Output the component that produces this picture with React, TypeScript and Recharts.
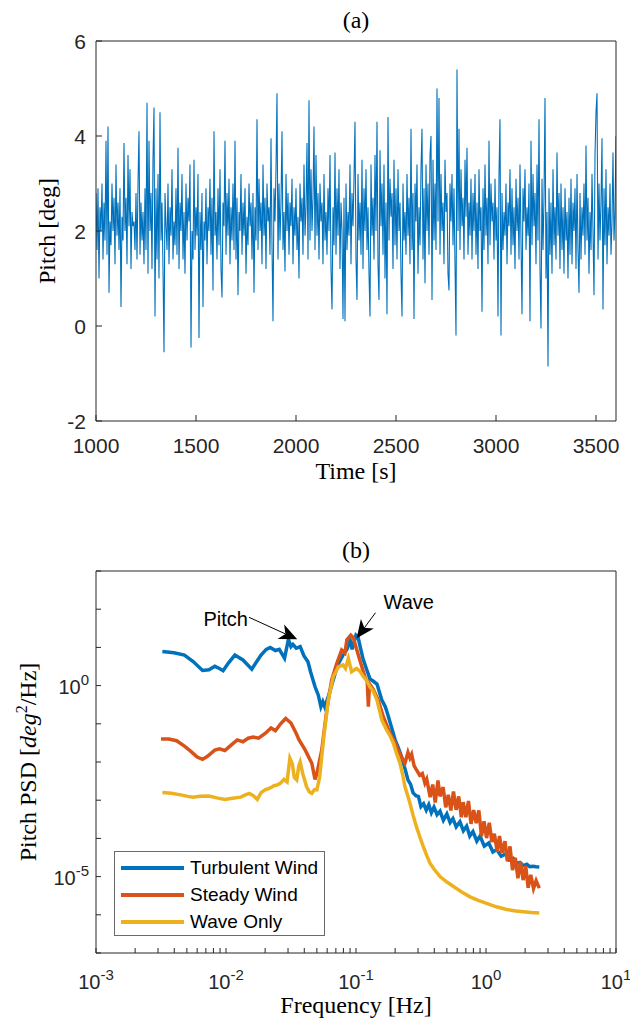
import { Legend, Line, LineChart, ReferenceLine, XAxis, YAxis } from "recharts";

const BLUE = "#0072bd";
const ORANGE = "#d95319";
const YELLOW = "#edb120";
const AXIS = "#262626";
const SANS = '"Liberation Sans", Arial, Helvetica, sans-serif';
const SERIF = '"Liberation Serif", "DejaVu Serif", serif';

// (a) pitch time history, one value every 5 s from 1000 s
const TIME_START = 1000;
const TIME_STEP = 5;
const PITCH_DEG = [
  2.8, 1.6, 2.9, 1.0, 2.5, 2.0, 3.0, 1.4, 2.6, 1.8, 3.9, 1.5, 4.2, 0.7, 2.2, 1.7, 3.0, 2.0, 2.7, 1.3,
  3.4, 1.9, 2.6, 1.6, 2.9, 0.4, 2.3, 1.8, 3.85, 2.0, 2.7, 1.3, 3.6, 2.1, 3.3, 1.2, 2.4, 2.1, 2.2, 1.6,
  2.8, 1.4, 3.0, 4.1, 1.5, 2.6, 1.8, 2.4, 1.3, 2.9, 1.6, 4.7, 1.1, 3.9, 2.0, 2.8, 1.2, 3.5, 4.6, 0.2,
  2.9, 1.4, 3.2, 1.0, 4.5, 1.8, 2.6, 1.2, -0.55, 2.8, 2.1, 1.6, 3.0, 1.3, 2.5, 1.9, 3.3, 1.4, 2.2, 1.7,
  2.9, 1.5, 3.75, 1.2, 2.6, 2.0, 3.2, 1.4, 2.4, 1.1, 3.0, 1.8, 2.7, 2.2, 3.4, -0.45, 2.0, 1.4, 3.5, 1.6,
  2.5, 1.9, 3.2, -0.25, 2.4, 1.6, 2.8, 0.4, 2.2, 1.8, 2.9, 1.3, 2.5, 2.0, 3.1, 1.5, 2.7, 0.75, 4.1, 1.9,
  2.4, 1.4, 2.9, 1.7, 3.3, 1.2, 0.6, 2.6, 2.1, 3.9, 1.5, 2.8, 1.9, 3.1, 1.3, 2.5, 1.8, 3.0, 1.6, 3.9,
  1.4, 2.7, 0.65, 2.4, 2.0, 3.2, 1.5, 2.6, 1.9, 2.9, 1.1, 2.3, 1.7, 3.0, 2.1, 2.6, 1.4, 2.8, 0.7, 2.5,
  1.8, 4.35, 1.6, 3.1, 2.0, 2.6, 1.3, 3.4, 1.9, 2.7, 1.2, 3.0, 2.2, 2.5, 1.5, 3.95, 1.7, 0.1, 2.9, 2.2,
  3.3, 4.9, 1.4, 3.0, 1.8, 2.6, 4.1, 1.6, 2.4, 1.15, 3.2, 2.0, 2.8, 1.5, 2.6, 2.1, 3.1, 1.3, 2.5, 1.9,
  2.9, 1.6, 2.3, 1.0, 3.0, 2.2, 2.7, 1.5, 3.4, 1.9, 2.5, 3.85, 1.4, 4.75, 1.8, 3.3, 2.0, 2.7, 4.2, 1.6,
  3.6, 1.9, 2.8, 1.4, 3.0, 2.2, 2.6, 1.3, 3.2, 1.8, 2.4, 1.5, 2.9, 2.0, 3.6, 1.2, 0.35, 2.5, 1.7, 3.65,
  1.5, 2.9, 1.9, 3.3, 1.2, 2.6, 2.0, 0.15, 2.7, 0.1, 3.0, 1.6, 2.4, 1.9, 3.4, 1.3, 2.8, 2.1, 3.1, 4.3,
  1.4, 0.55, 3.2, 1.8, 2.6, 1.5, 3.5, 1.2, 2.9, 2.0, 3.3, 1.6, 2.5, 1.1, 0.2, 3.4, 1.9, 2.7, 1.4, 3.6,
  2.0, 4.3, 1.3, 0.55, 3.7, 2.1, 3.0, 1.5, 3.4, 1.0, 2.6, 0.25, 4.4, 1.8, 3.1, 2.3, 2.8, 1.2, 3.5, 1.7,
  2.9, 1.4, 3.3, 2.0, 2.6, 1.1, 0.2, 3.0, 1.8, 2.4, 1.5, 3.2, 1.9, 2.7, 1.3, 4.15, 1.6, 2.8, 0.15, 3.0,
  2.2, 3.4, 1.1, 2.5, 1.7, 3.3, 4.15, 1.4, 2.9, 0.9, 3.4, 2.0, 3.0, 1.5, 3.6, 4.0, 0.55, 3.5, 1.8, 3.0,
  1.6, 5.0, 2.2, 4.8, 1.5, 3.2, 2.0, 2.6, 1.3, 3.5, 2.4, 2.8, 1.1, 0.75, 3.0, 2.2, 3.2, 1.7, 2.9, 1.3,
  -0.2, 5.4, 2.0, 4.15, 1.6, 3.3, 2.1, 2.7, 1.4, 3.5, 2.3, 3.75, 1.5, 2.6, 1.9, 3.1, 1.4, 2.8, 2.0, 3.2,
  1.5, 2.6, 1.2, 3.3, 2.0, 2.5, 0.3, 2.9, 1.6, 3.4, 1.9, 2.7, 1.3, 3.9, 1.7, 3.0, 2.2, 2.6, 1.4, 3.1,
  1.8, 2.5, 0.2, 3.2, 4.35, -0.2, 2.8, 1.6, 2.4, 1.9, 3.0, 1.3, 2.6, 2.1, 3.3, 1.5, 2.9, 1.7, 2.5, 1.2,
  3.1, 2.0, 2.7, 1.4, 3.4, 1.8, 0.25, 2.9, 2.2, 3.3, 1.6, 2.5, 1.9, 3.0, 0.1, 3.9, 1.7, 3.2, 2.1, 2.8,
  1.3, 3.4, 1.8, 4.35, 1.2, -0.05, 3.1, 1.6, 2.7, 4.8, 1.0, 2.4, -0.85, 2.9, 1.5, 2.6, 1.1, 3.3, 1.7, 2.5,
  1.4, 3.65, 1.9, 2.8, 1.2, 3.0, 1.6, 2.5, 1.1, 2.9, 1.8, 2.4, 1.0, 2.7, 1.5, 3.1, 1.3, 2.6, 2.0, 2.9,
  1.2, 3.2, 1.6, 0.7, 2.8, 1.4, 2.5, 1.9, 3.0, 1.5, 3.8, 1.8, 2.7, 1.1, 2.4, 1.6, 3.2, 2.0, 0.65, 3.6,
  4.5, 4.9, 1.4, 3.0, 1.8, 2.6, 3.95, 0.35, 2.9, 1.7, 3.3, 1.3, 2.5, 1.9, 3.0, 1.5, 2.2, 3.65, 1.8, 2.4,
  4.0,
];

const TIME_TICKS = [1000, 1500, 2000, 2500, 3000, 3500];
const PITCH_TICKS = [-2, 0, 2, 4, 6];

// (b) pitch PSD
const TURB_FREQ = [
  0.00324, 0.00398, 0.00479, 0.00562, 0.0066, 0.0074, 0.0082, 0.0089, 0.0095, 0.0105,
  0.0117, 0.0135, 0.0158, 0.0174, 0.0186, 0.0204, 0.0219, 0.024, 0.0257, 0.0282,
  0.0302, 0.0316, 0.0327, 0.0347, 0.0372, 0.0398, 0.0427, 0.0447, 0.0484, 0.0513,
  0.0537, 0.0556, 0.0575, 0.0617, 0.0668, 0.0724, 0.0794, 0.0851, 0.0902, 0.0933,
  0.1, 0.1035, 0.108, 0.113, 0.12, 0.128, 0.136, 0.145, 0.158, 0.168,
  0.176, 0.188, 0.2, 0.211, 0.224, 0.237, 0.251, 0.263, 0.275, 0.29,
  0.302, 0.316, 0.331, 0.347, 0.363, 0.38, 0.398, 0.42, 0.443, 0.47,
  0.5, 0.53, 0.557, 0.59, 0.63, 0.67, 0.71, 0.75, 0.794, 0.85,
  0.9, 0.97, 1.05, 1.13, 1.21, 1.31, 1.41, 1.51, 1.62, 1.72,
  1.82, 1.94, 2.06, 2.17, 2.29, 2.43, 2.57,
];
const TURB_PSD = [
  7.8, 7.2, 6.3, 4.2, 2.5, 2.6, 3.2, 2.8, 2.45, 4.0,
  6.3, 4.7, 2.7, 4.5, 6.3, 8.9, 10, 8.3, 8.9, 5.2,
  16.2, 10.5, 12, 9.5, 10.5, 6.0, 4.2, 2.3, 0.93, 0.56,
  0.28, 0.38, 0.28, 0.56, 1.41, 3.5, 6.3, 8.9, 15.5, 8.9,
  21, 19, 10, 5.2, 2.8, 1.5, 1.3, 1.1, 0.42, 0.28,
  0.17, 0.079, 0.038, 0.024, 0.0138, 0.0071, 0.0034, 0.0026, 0.00155, 0.0013,
  1.26e-3, 6.8e-4, 8.1e-4, 5.5e-4, 7.6e-4, 4.7e-4, 6.6e-4, 4.2e-4, 5.2e-4, 3.0e-4,
  4.4e-4, 2.6e-4, 3.3e-4, 2.0e-4, 2.75e-4, 1.58e-4, 2.1e-4, 1.15e-4, 1.51e-4, 8.5e-5,
  1.15e-4, 6.3e-5, 7.6e-5, 4.4e-5, 5.1e-5, 3.4e-5, 3.9e-5, 2.7e-5, 3.0e-5, 2.2e-5,
  2.35e-5, 1.95e-5, 2.1e-5, 1.82e-5, 1.86e-5, 1.8e-5, 1.78e-5,
];

const STEADY_FREQ = [
  0.00316, 0.00363, 0.00417, 0.00479, 0.00537, 0.006, 0.0066, 0.0072, 0.0082, 0.0089,
  0.0098, 0.011, 0.0122, 0.0135, 0.0148, 0.0162, 0.0178, 0.02, 0.0222, 0.024,
  0.0263, 0.0288, 0.0316, 0.0347, 0.0365, 0.0407, 0.0457, 0.0484, 0.05, 0.0545,
  0.0596, 0.065, 0.0711, 0.0776, 0.0822, 0.0851, 0.0912, 0.0955, 0.098, 0.107,
  0.117, 0.122, 0.1245, 0.127, 0.136, 0.148, 0.162, 0.182, 0.2, 0.211,
  0.226, 0.238, 0.251, 0.26, 0.268, 0.28, 0.292, 0.309, 0.324, 0.339,
  0.35, 0.372, 0.389, 0.407, 0.427, 0.443, 0.468, 0.49, 0.513, 0.537,
  0.562, 0.589, 0.617, 0.646, 0.668, 0.7, 0.733, 0.767, 0.804, 0.841,
  0.881, 0.923, 0.966, 1.01, 1.06, 1.11, 1.16, 1.22, 1.27, 1.33,
  1.4, 1.46, 1.53, 1.6, 1.68, 1.76, 1.84, 1.93, 2.02, 2.11,
  2.21, 2.32, 2.43, 2.57,
];
const STEADY_PSD = [
  0.04, 0.04, 0.036, 0.026, 0.019, 0.0135, 0.0117, 0.0141, 0.0204, 0.022,
  0.02, 0.028, 0.038, 0.034, 0.042, 0.045, 0.042, 0.056, 0.078, 0.066,
  0.1, 0.138, 0.105, 0.056, 0.038, 0.0204, 0.0093, 0.0035, 0.005, 0.0204,
  0.23, 1.41, 3.8, 8.5, 7.1, 15.8, 21, 17.8, 12.9, 4.7,
  1.7, 1.26, 0.28, 1.12, 0.79, 0.42, 0.155, 0.058, 0.032, 0.0204,
  0.0126, 0.0093, 0.0178, 0.0126, 0.0158, 0.0079, 0.0062, 0.0045, 0.005, 0.0028,
  3.55e-3, 1.2e-3, 2.57e-3, 8.7e-4, 3.3e-3, 1.26e-3, 2.2e-3, 6.5e-4, 1.38e-3, 5.4e-4,
  1.7e-3, 5.6e-4, 1.26e-3, 3.55e-4, 8.9e-4, 3.6e-4, 9.5e-4, 2.4e-4, 5.5e-4, 2.5e-4,
  5.4e-4, 1.15e-4, 2.8e-4, 1.02e-4, 2.57e-4, 8.1e-5, 1.32e-4, 4.5e-5, 1.15e-4, 4.2e-5,
  8.5e-5, 2.5e-5, 6.2e-5, 1.48e-5, 3.1e-5, 9.1e-6, 2.45e-5, 8.1e-6, 1.9e-5, 5.1e-6,
  1.12e-5, 4.9e-6, 7.8e-6, 5.0e-6,
];

const WAVE_FREQ = [
  0.00324, 0.0038, 0.00447, 0.0051, 0.00556, 0.0063, 0.0074, 0.0085, 0.0098, 0.0112,
  0.013, 0.0141, 0.0151, 0.0162, 0.0174, 0.0186, 0.02, 0.0219, 0.0234, 0.0247,
  0.0263, 0.0279, 0.0295, 0.031, 0.0324, 0.0335, 0.035, 0.0363, 0.0372, 0.0389,
  0.0417, 0.0437, 0.0457, 0.0479, 0.05, 0.0525, 0.0562, 0.0612, 0.0668, 0.0731,
  0.0794, 0.083, 0.0873, 0.0925, 0.101, 0.107, 0.114, 0.12, 0.128, 0.136,
  0.145, 0.158, 0.172, 0.182, 0.194, 0.204, 0.218, 0.229, 0.238, 0.251,
  0.26, 0.275, 0.292, 0.309, 0.33, 0.351, 0.371, 0.398, 0.443, 0.5,
  0.562, 0.646, 0.753, 0.871, 1.01, 1.2, 1.44, 1.7, 1.94, 2.24,
  2.57,
];
const WAVE_PSD = [
  1.58e-3, 1.51e-3, 1.38e-3, 1.26e-3, 1.2e-3, 1.26e-3, 1.29e-3, 1.15e-3, 1.05e-3, 1.12e-3,
  1.2e-3, 1.38e-3, 1.51e-3, 1.32e-3, 1.05e-3, 1.58e-3, 1.86e-3, 2.1e-3, 2.4e-3, 2.5e-3,
  2.8e-3, 3.5e-3, 3.0e-3, 0.0126, 8.9e-3, 4.0e-3, 3.4e-3, 7.9e-3, 0.01, 5.0e-3,
  2.24e-3, 1.66e-3, 1.51e-3, 1.9e-3, 1.86e-3, 4.0e-3, 0.038, 0.42, 1.7, 3.1,
  3.5, 2.8, 5.1, 2.3, 2.8, 2.4, 1.7, 1.41, 0.93, 0.71,
  0.42, 0.126, 0.069, 0.05, 0.031, 0.0178, 0.0093, 0.0045, 0.00224, 0.00126,
  8.3e-4, 4.0e-4, 2.0e-4, 1.12e-4, 6.0e-5, 3.5e-5, 2.24e-5, 1.58e-5, 1.0e-5, 7.2e-6,
  5.5e-6, 4.0e-6, 2.95e-6, 2.4e-6, 2.0e-6, 1.62e-6, 1.38e-6, 1.26e-6, 1.2e-6, 1.15e-6,
  1.12e-6,
];

const SERIES_ORDER = ["Turbulent Wind", "Steady Wind", "Wave Only"];

const FREQ_DECADES = [1e-3, 1e-2, 1e-1, 1e0, 1e1];
const MINOR_STEPS = [2, 3, 4, 5, 6, 7, 8, 9];
const PSD_TICKS = [1e-7, 1e-6, 1e-5, 1e-4, 1e-3, 1e-2, 1e-1, 1e0, 1e1, 1e2, 1e3];
const PSD_LABELED = [1e-5, 1e0];

// textarrow annotations: tail (text end) and head, in data units
const ARROWS = [
  { label: "Pitch", tail: [0.01503, 61.4], head: [0.0353, 16.3], dx: -1, dy: 9, anchor: "end" },
  { label: "Wave", tail: [0.1413, 80.9], head: [0.1012, 17.3], dx: 8, dy: -4, anchor: "start" },
];

const FREQ_TICKS = FREQ_DECADES.flatMap((d, i) =>
  i < FREQ_DECADES.length - 1 ? [d, ...MINOR_STEPS.map((m) => m * d)] : [d]
);

const pitchRows = PITCH_DEG.map((v, i) => ({ t: TIME_START + i * TIME_STEP, pitch: v }));
const toRows = (f: number[], p: number[]) => f.map((x, i) => ({ f: x, psd: p[i] }));
const turbRows = toRows(TURB_FREQ, TURB_PSD);
const steadyRows = toRows(STEADY_FREQ, STEADY_PSD);
const waveRows = toRows(WAVE_FREQ, WAVE_PSD);

function TimeTick({ x, y, payload }: any) {
  return (
    <text x={x} y={y + 32} textAnchor="middle" fontSize={21} fontFamily={SANS} fill={AXIS}>
      {payload.value}
    </text>
  );
}

function PitchTick({ x, y, payload }: any) {
  return (
    <text x={x - 10} y={y + 7.5} textAnchor="end" fontSize={21} fontFamily={SANS} fill={AXIS}>
      {payload.value}
    </text>
  );
}

const isDecade = (v: number) => Math.abs(Math.log10(v) - Math.round(Math.log10(v))) < 1e-6;

function FreqTick({ x, y, payload }: any) {
  if (!isDecade(payload.value)) return <g />;
  return (
    <text x={x} y={y + 36} textAnchor="middle" fontSize={20} fontFamily={SANS} fill={AXIS}>
      10
      <tspan dy={-9} fontSize={15}>
        {Math.round(Math.log10(payload.value))}
      </tspan>
    </text>
  );
}

function PsdTick({ x, y, payload }: any) {
  if (!PSD_LABELED.includes(payload.value)) return <g />;
  return (
    <text x={x - 7} y={y + 8} textAnchor="end" fontSize={20} fontFamily={SANS} fill={AXIS}>
      10
      <tspan dy={-9} fontSize={15}>
        {Math.round(Math.log10(payload.value))}
      </tspan>
    </text>
  );
}

function arrowShape(a: (typeof ARROWS)[number]) {
  return (props: any) => {
    const { x1, y1, x2, y2 } = props;
    const len = Math.hypot(x2 - x1, y2 - y1);
    const ux = (x2 - x1) / len;
    const uy = (y2 - y1) / len;
    const headLen = 18;
    const halfW = 8;
    const notch = 5;
    const bx = x2 - ux * headLen;
    const by = y2 - uy * headLen;
    const nx = x2 - ux * (headLen - notch);
    const ny = y2 - uy * (headLen - notch);
    const pts = [
      [x2, y2],
      [bx - uy * halfW, by + ux * halfW],
      [nx, ny],
      [bx + uy * halfW, by - ux * halfW],
    ]
      .map((p) => p.join(","))
      .join(" ");
    return (
      <g>
        <line x1={x1} y1={y1} x2={nx} y2={ny} stroke="#000" strokeWidth={1} />
        <polygon points={pts} fill="#000" />
        <text x={x1 + a.dx} y={y1 + a.dy} textAnchor={a.anchor as any} fontSize={20} fontFamily={SANS} fill="#000">
          {a.label}
        </text>
      </g>
    );
  };
}

function PsdLegend({ payload }: any) {
  const items = [...(payload || [])].sort(
    (a: any, b: any) => SERIES_ORDER.indexOf(a.value) - SERIES_ORDER.indexOf(b.value)
  );
  return (
    <div
      style={{
        width: 211,
        height: 85,
        boxSizing: "border-box",
        border: "1px solid #6a6a6a",
        background: "#fff",
        position: "relative",
      }}
    >
      {items.map((entry: any, i: number) => (
        <div key={entry.value} style={{ position: "absolute", left: 0, top: 4 + i * 27, height: 24, width: 211 }}>
          <div style={{ position: "absolute", left: 6, top: 10, width: 63, height: 4, background: entry.color }} />
          <span
            style={{
              position: "absolute",
              left: 75,
              top: 0,
              lineHeight: "24px",
              fontSize: 19,
              fontFamily: SANS,
              color: "#000",
              whiteSpace: "nowrap",
            }}
          >
            {entry.value}
          </span>
        </div>
      ))}
    </div>
  );
}

export default function App() {
  return (
    <div style={{ position: "absolute", left: 0, top: 0, width: 630, height: 1022, background: "#fff" }}>
      <div style={{ position: "absolute", left: 0, top: 0 }}>
        <LineChart width={630} height={500} data={pitchRows} margin={{ top: 40, right: 13, bottom: 0, left: 0 }}>
          <XAxis
            dataKey="t"
            type="number"
            domain={[1000, 3600]}
            ticks={TIME_TICKS}
            interval={0}
            height={79}
            tickSize={-6}
            tickMargin={6}
            tick={TimeTick}
            stroke={AXIS}
            allowDataOverflow
          />
          <XAxis
            xAxisId="top"
            orientation="top"
            dataKey="t"
            type="number"
            domain={[1000, 3600]}
            ticks={TIME_TICKS}
            interval={0}
            height={1}
            tickSize={-6}
            tick={false}
            stroke={AXIS}
            allowDataOverflow
          />
          <YAxis
            type="number"
            domain={[-2, 6]}
            ticks={PITCH_TICKS}
            interval={0}
            width={96}
            tickSize={-6}
            tickMargin={6}
            tick={PitchTick}
            stroke={AXIS}
            allowDataOverflow
          />
          <YAxis
            yAxisId="right"
            orientation="right"
            type="number"
            domain={[-2, 6]}
            ticks={PITCH_TICKS}
            interval={0}
            width={1}
            tickSize={-6}
            tick={false}
            stroke={AXIS}
            allowDataOverflow
          />
          <Line
            dataKey="pitch"
            stroke={BLUE}
            strokeWidth={1.1}
            dot={false}
            activeDot={false}
            isAnimationActive={false}
          />
        </LineChart>
      </div>

      <div style={{ position: "absolute", left: 0, top: 500 }}>
        <LineChart width={630} height={522} margin={{ top: 70, right: 13, bottom: 0, left: 0 }}>
          <XAxis
            dataKey="f"
            type="number"
            scale="log"
            domain={[1e-3, 10]}
            ticks={FREQ_TICKS}
            interval={0}
            height={69}
            tickSize={-5}
            tickMargin={5}
            tick={FreqTick}
            stroke={AXIS}
            allowDataOverflow
          />
          <XAxis
            xAxisId="top"
            orientation="top"
            dataKey="f"
            type="number"
            scale="log"
            domain={[1e-3, 10]}
            ticks={FREQ_TICKS}
            interval={0}
            height={1}
            tickSize={-5}
            tick={false}
            stroke={AXIS}
            allowDataOverflow
          />
          <YAxis
            type="number"
            scale="log"
            domain={[1e-7, 1e3]}
            ticks={PSD_TICKS}
            interval={0}
            width={96}
            tickSize={-5}
            tickMargin={5}
            tick={PsdTick}
            stroke={AXIS}
            allowDataOverflow
          />
          <YAxis
            yAxisId="right"
            orientation="right"
            type="number"
            scale="log"
            domain={[1e-7, 1e3]}
            ticks={PSD_TICKS}
            interval={0}
            width={1}
            tickSize={-5}
            tick={false}
            stroke={AXIS}
            allowDataOverflow
          />
          <Line
            data={turbRows}
            dataKey="psd"
            name="Turbulent Wind"
            stroke={BLUE}
            strokeWidth={3.5}
            dot={false}
            activeDot={false}
            isAnimationActive={false}
          />
          <Line
            data={steadyRows}
            dataKey="psd"
            name="Steady Wind"
            stroke={ORANGE}
            strokeWidth={3.5}
            dot={false}
            activeDot={false}
            isAnimationActive={false}
          />
          <Line
            data={waveRows}
            dataKey="psd"
            name="Wave Only"
            stroke={YELLOW}
            strokeWidth={3.5}
            dot={false}
            activeDot={false}
            isAnimationActive={false}
          />
          {ARROWS.map((a) => (
            <ReferenceLine
              key={a.label}
              segment={[
                { x: a.tail[0], y: a.tail[1] },
                { x: a.head[0], y: a.head[1] },
              ]}
              shape={arrowShape(a)}
            />
          ))}
          <Legend
            layout="vertical"
            align="center"
            verticalAlign="middle"
            content={PsdLegend}
            wrapperStyle={{ left: 114, top: 351, width: 211, height: 85 }}
          />
        </LineChart>
      </div>

      <svg
        width={630}
        height={1022}
        style={{ position: "absolute", left: 0, top: 0, pointerEvents: "none" }}
        fontFamily={SERIF}
        fill="#000"
      >
        <text x={356} y={28} textAnchor="middle" fontSize={24}>
          (a)
        </text>
        <text x={356} y={479} textAnchor="middle" fontSize={24}>
          Time [s]
        </text>
        <text x={55} y={231} textAnchor="middle" fontSize={24} transform="rotate(-90 55 231)">
          Pitch [deg]
        </text>
        <text x={356} y={558} textAnchor="middle" fontSize={24}>
          (b)
        </text>
        <text x={356} y={1013} textAnchor="middle" fontSize={24}>
          Frequency [Hz]
        </text>
        <text x={36} y={762} textAnchor="middle" fontSize={24} transform="rotate(-90 36 762)">
          Pitch PSD [<tspan fontStyle="italic">deg</tspan>
          <tspan dy={-9} fontSize={16}>
            2
          </tspan>
          <tspan dy={9}>/Hz]</tspan>
        </text>
      </svg>
    </div>
  );
}
